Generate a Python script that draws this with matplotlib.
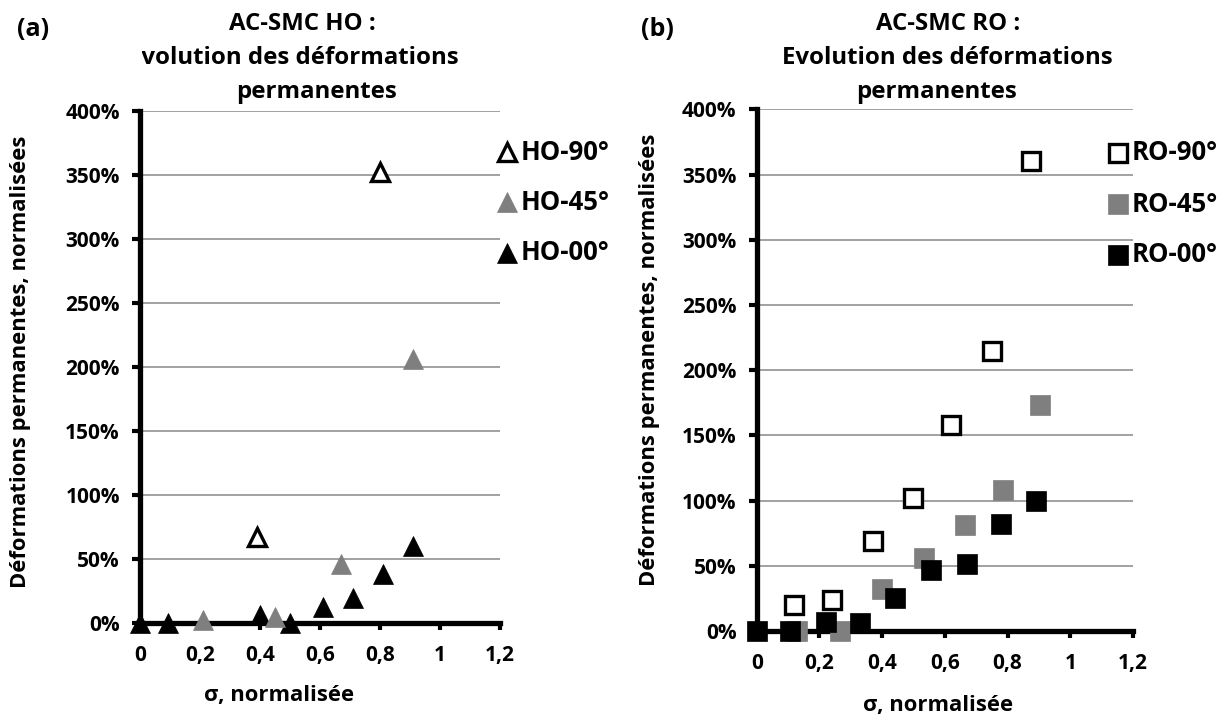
import matplotlib
matplotlib.use("Agg")
import matplotlib.pyplot as plt
from matplotlib.lines import Line2D
from matplotlib.ticker import FuncFormatter
from matplotlib.transforms import Bbox

plt.rcParams["font.family"] = ["Open Sans", "DejaVu Sans"]
plt.rcParams["font.weight"] = "bold"

# (a) AC-SMC HO, y in %
ho90_x = [0.39, 0.80]
ho90_y = [67, 352]
ho45_x = [0.21, 0.45, 0.67, 0.91]
ho45_y = [2, 4.5, 45.5, 206]
ho00_x = [0.0, 0.094, 0.40, 0.50, 0.61, 0.71, 0.81, 0.91]
ho00_y = [0, 0, 6, 0, 12, 19, 38, 60]

# (b) AC-SMC RO, y in %
ro90_x = [0.12, 0.24, 0.37, 0.50, 0.62, 0.75, 0.875]
ro90_y = [20, 24, 69, 102, 158, 215, 360]
ro45_x = [0.13, 0.265, 0.40, 0.535, 0.665, 0.785, 0.905]
ro45_y = [0, 0, 32, 56, 81, 108, 173]
ro00_x = [0.0, 0.105, 0.22, 0.33, 0.44, 0.555, 0.67, 0.78, 0.89]
ro00_y = [0, 0, 7, 6, 25, 47, 51, 82, 100]

x_ticks = [0, 0.2, 0.4, 0.6, 0.8, 1.0, 1.2]
y_ticks = [0, 50, 100, 150, 200, 250, 300, 350, 400]

GRAY = "#7f7f7f"
W, H = 1228, 718

fig = plt.figure(figsize=(W / 100, H / 100), dpi=100)


def px_rect(x0, y0, x1, y1):
    # pixel box (top-left origin) -> figure fraction
    return [x0 / W, 1 - y1 / H, (x1 - x0) / W, (y1 - y0) / H]


def fig_text(x, y, s, size, ha="center", **kw):
    return fig.text(x / W, 1 - y / H, s, fontsize=size, fontweight="bold",
                    ha=ha, va="center", **kw)


def style_axes(ax):
    ax.set_xlim(0, 1.2)
    ax.set_ylim(0, 400)
    ax.set_xticks(x_ticks)
    ax.set_yticks(y_ticks)
    ax.xaxis.set_major_formatter(FuncFormatter(lambda v, p: f"{v:g}".replace(".", ",")))
    ax.yaxis.set_major_formatter(FuncFormatter(lambda v, p: f"{v:.0f}%"))
    for s in ("top", "right"):
        ax.spines[s].set_visible(False)
    for s in ("left", "bottom"):
        ax.spines[s].set_linewidth(3.8)
        ax.spines[s].set_capstyle("projecting")
        ax.spines[s].set_zorder(3)
    ax.grid(axis="y", color="#9a9a9a", linewidth=1.3)
    ax.set_axisbelow(True)
    ax.tick_params(axis="y", length=5.5, width=3, pad=9, labelsize=15)
    ax.tick_params(axis="x", length=5, width=3, pad=11, labelsize=15)


ax_a = fig.add_axes(px_rect(140, 110.7, 500, 622.7))
ax_b = fig.add_axes(px_rect(756.7, 109.3, 1133, 631))
for ax in (ax_a, ax_b):
    style_axes(ax)

tri = dict(marker="^", linestyle="none", clip_on=False)
ax_a.plot(ho90_x, ho90_y, ms=12.5, mfc="white", mec="black", mew=2.4, zorder=5, **tri)
ax_a.plot(ho00_x, ho00_y, ms=14.5, mfc="black", mec="black", mew=0.5, zorder=6, **tri)
ax_a.plot(ho45_x, ho45_y, ms=14.5, mfc=GRAY, mec=GRAY, mew=0.5, zorder=7, **tri)

sq = dict(marker="s", linestyle="none", clip_on=False)
ax_b.plot(ro90_x, ro90_y, ms=12.5, mfc="white", mec="black", mew=2.4, zorder=5, **sq)
ax_b.plot(ro45_x, ro45_y, ms=14, mfc=GRAY, mec=GRAY, mew=0.5, zorder=6, **sq)
ax_b.plot(ro00_x, ro00_y, ms=14, mfc="black", mec="black", mew=0.5, zorder=7, **sq)

ylab = "Déformations permanentes, normalisées"
ax_a.set_ylabel(ylab, fontsize=15.8, fontweight="bold")
ax_a.yaxis.set_label_coords(-0.332, 0.509)
ax_b.set_ylabel(ylab, fontsize=15.8, fontweight="bold")
ax_b.yaxis.set_label_coords(-0.286, 0.519)
ax_a.set_xlabel("σ, normalisée", fontsize=15.8, fontweight="bold")
ax_a.xaxis.set_label_coords(0.386, -0.143)
ax_b.set_xlabel("σ, normalisée", fontsize=15.8, fontweight="bold")
ax_b.xaxis.set_label_coords(0.482, -0.142)
for ax in (ax_a, ax_b):
    ax.xaxis.label.set_va("center")
    ax.yaxis.label.set_va("center")

# panel letters and titles
fig_text(33, 30, "(a)", 18)
fig_text(657, 30, "(b)", 18)

fig_text(302, 24, "AC-SMC HO :", 17.3)
line2 = fig_text(128, 58, "Evolution des déformations", 17.3, ha="left")
line2.set_clip_box(Bbox.from_extents(142, 0, W, H))
fig_text(316, 92, "permanentes", 17.3)

fig_text(948, 24, "AC-SMC RO :", 17.3)
fig_text(947, 58, "Evolution des déformations", 17.3)
fig_text(936, 92, "permanentes", 17.3)

# legends on the right of each plot
legend_a = [("HO-90°", dict(marker="^", ms=12.5, mfc="white", mec="black", mew=2.4)),
            ("HO-45°", dict(marker="^", ms=14.5, mfc=GRAY, mec=GRAY, mew=0.5)),
            ("HO-00°", dict(marker="^", ms=14.5, mfc="black", mec="black", mew=0.5))]
legend_b = [("RO-90°", dict(marker="s", ms=12.5, mfc="white", mec="black", mew=2.4)),
            ("RO-45°", dict(marker="s", ms=14, mfc=GRAY, mec=GRAY, mew=0.5)),
            ("RO-00°", dict(marker="s", ms=14, mfc="black", mec="black", mew=0.5))]

for entries, mx, tx, ys in ((legend_a, 507, 521, [152, 202, 253]),
                            (legend_b, 1118, 1132, [153, 204, 255])):
    for (label, mk), y in zip(entries, ys):
        fig.add_artist(Line2D([mx / W], [1 - y / H], linestyle="none",
                              transform=fig.transFigure, **mk))
        fig_text(tx, y, label, 18.5, ha="left")

fig.savefig("out.png", dpi=100)
